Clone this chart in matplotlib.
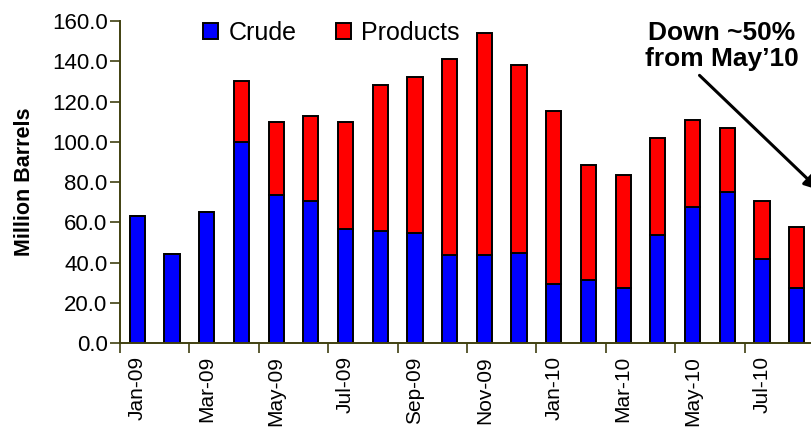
import numpy as np
import matplotlib
matplotlib.use("Agg")
from matplotlib import pyplot as plt

plt.rcParams['font.family'] = ['Liberation Sans', 'DejaVu Sans']

months = ["Jan-09", "Feb-09", "Mar-09", "Apr-09", "May-09", "Jun-09",
          "Jul-09", "Aug-09", "Sep-09", "Oct-09", "Nov-09", "Dec-09",
          "Jan-10", "Feb-10", "Mar-10", "Apr-10", "May-10", "Jun-10",
          "Jul-10", "Aug-10"]
crude = [63, 44, 65, 100, 73.5, 70.5, 56.5, 55.5, 54.5, 43.5, 43.5, 44.5,
         29.5, 31.5, 27.5, 53.5, 67.5, 75, 41.5, 27.5]
total = [63, 44, 65, 130, 110, 113, 110, 128, 132, 141, 154, 138,
         115.5, 88.5, 83.5, 102, 111, 107, 70.5, 57.5]
products = [t - c for t, c in zip(total, crude)]

axis_color = "#404010"

fig = plt.figure(figsize=(8.12, 4.30), dpi=100)
# axes runs past the right edge, the source picture is cropped there
ax = fig.add_axes([0.1478, 0.2023, 0.8974, 0.7488])

x = np.arange(len(months))
ax.bar(x, crude, width=0.44, color="#0000FF", edgecolor="black",
       linewidth=1.4, label="Crude")
ax.bar(x, products, width=0.44, bottom=crude, color="#FF0000",
       edgecolor="black", linewidth=1.4, label="Products")

ax.set_xlim(-0.5, 20.5)
ax.set_ylim(0, 160)
ax.set_yticks(np.arange(0, 161, 20))
ax.set_yticklabels([f"{v:.1f}" for v in np.arange(0, 161, 20)])

# tick marks between categories, labels at every other month
ax.set_xticks(np.arange(-0.5, 21, 2))
ax.set_xticklabels([])
ax.set_xticks(x[::2], minor=True)
ax.set_xticklabels(months[::2], minor=True, rotation=90)
ax.tick_params(axis="x", which="minor", length=0, pad=9.5, labelsize=15)
ax.tick_params(axis="x", which="major", length=7, width=1.2,
               color=axis_color)
ax.tick_params(axis="y", length=7, width=1.2, color=axis_color,
               labelsize=16, pad=2)

for side in ["top", "right"]:
    ax.spines[side].set_visible(False)
for side in ["left", "bottom"]:
    ax.spines[side].set_color(axis_color)
    ax.spines[side].set_linewidth(1.4)

ax.set_ylabel("Million Barrels", fontsize=15.5, fontweight="bold",
              labelpad=12)

ax.legend(loc="upper left", bbox_to_anchor=(0.238, 0.975),
          bbox_transform=fig.transFigure, ncol=2, frameon=False,
          fontsize=18, handlelength=0.6, handleheight=0.6,
          handletextpad=0.4, columnspacing=1.6, borderaxespad=0)

fig.text(0.889, 0.952, "Down ~50%\nfrom May\u201910", ha="center", va="top",
         fontsize=19, fontweight="bold", linespacing=1.15)
ax.annotate("", xy=(19.65, 76), xytext=(16.2, 133),
            arrowprops=dict(arrowstyle="-|>", color="black", lw=2.2,
                            mutation_scale=22, shrinkA=0, shrinkB=0))

fig.savefig("out.png", dpi=100)
